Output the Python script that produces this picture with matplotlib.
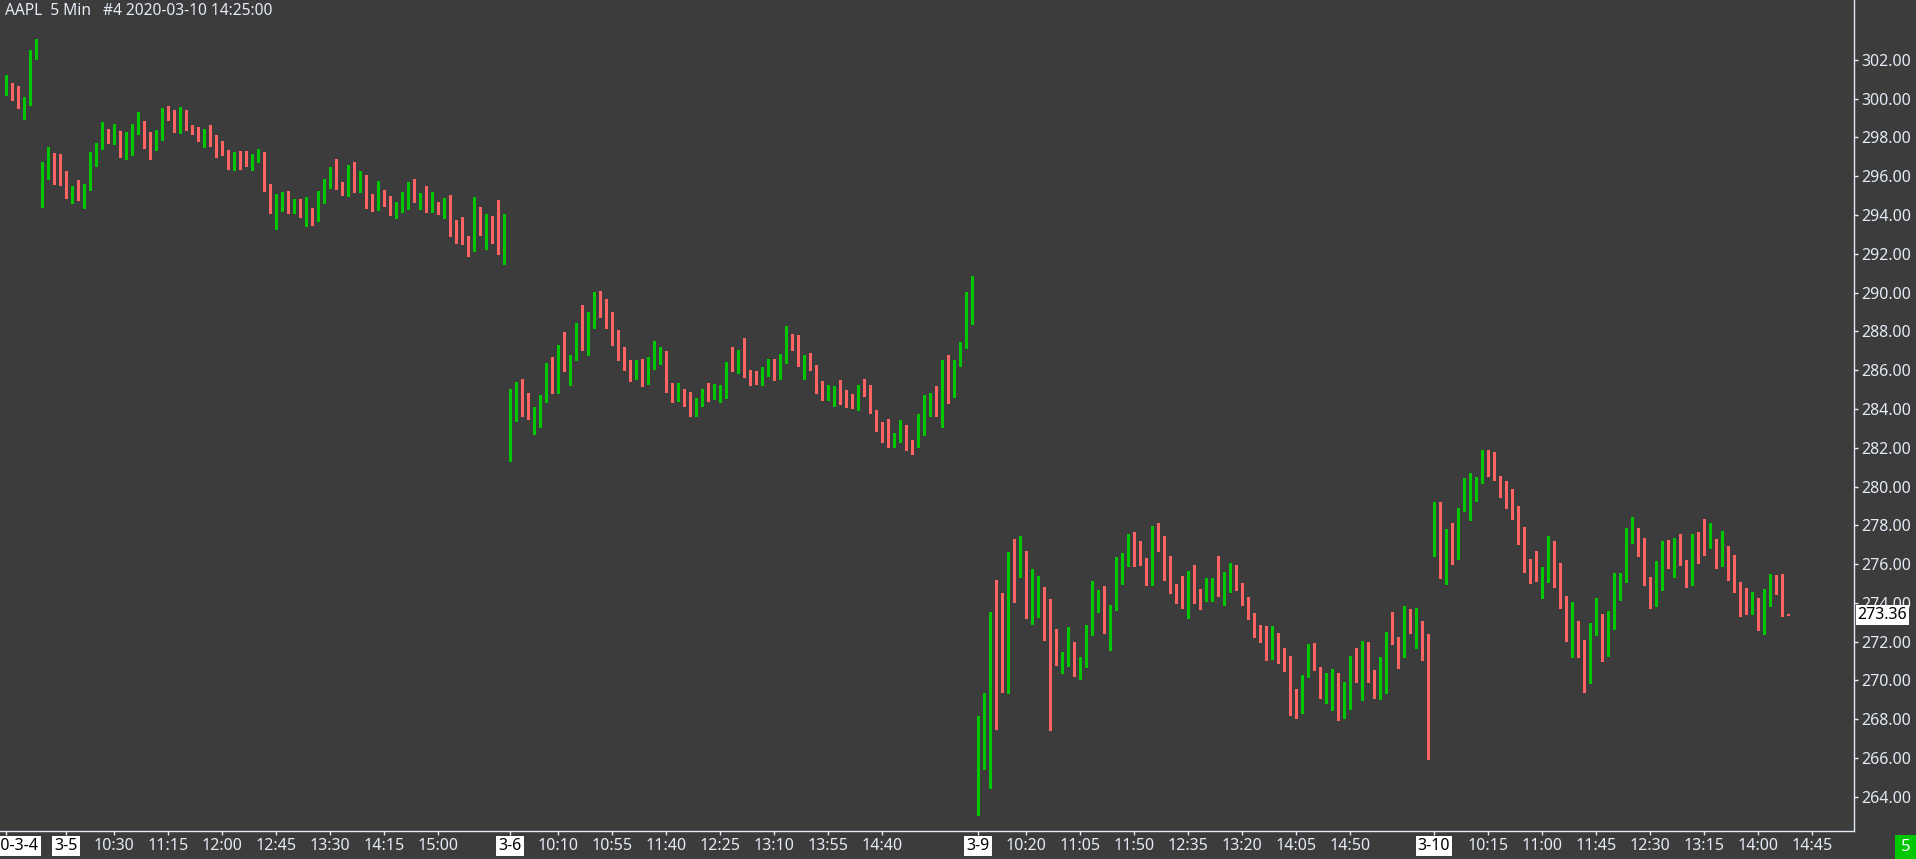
import matplotlib
matplotlib.use("Agg")
import matplotlib.pyplot as plt
from matplotlib.patches import Rectangle
from matplotlib.transforms import blended_transform_factory
import numpy as np

plt.rcParams["font.family"] = ["Noto Sans", "DejaVu Sans"]

# 5-minute bars, (open, high, low, close)
mar04 = [
    (300.45, 301.22, 300.19, 300.65), (300.65, 300.82, 299.93, 300.57), (300.60, 300.65, 299.53, 299.74),
    (299.69, 300.07, 298.93, 299.78), (299.69, 302.49, 299.69, 302.49), (302.47, 303.06, 302.03, 302.90),
]
mar05 = [
    (295.56, 296.75, 294.43, 296.72), (296.78, 297.52, 295.86, 296.99), (296.99, 297.20, 295.60, 296.49),
    (296.53, 297.15, 295.56, 295.70), (295.75, 296.27, 294.89, 295.00), (295.10, 295.51, 294.64, 295.48),
    (295.49, 295.80, 294.77, 294.82), (294.84, 295.60, 294.38, 295.44), (295.43, 297.25, 295.31, 297.04),
    (297.01, 297.70, 296.54, 297.66), (297.63, 298.79, 297.42, 298.28), (298.33, 298.45, 297.70, 297.73),
    (297.71, 298.69, 297.66, 298.33), (298.28, 298.33, 296.97, 297.04), (297.01, 298.28, 296.90, 297.42),
    (297.42, 298.71, 297.11, 298.43), (298.35, 299.33, 298.19, 298.85), (298.85, 298.85, 297.47, 297.61),
    (297.71, 298.28, 296.90, 297.42), (297.47, 298.38, 297.37, 298.18), (298.14, 299.52, 297.88, 299.26),
    (299.26, 299.62, 298.92, 299.17), (299.26, 299.41, 298.30, 298.40), (298.35, 299.57, 298.25, 299.05),
    (298.95, 299.41, 298.40, 298.40), (298.38, 298.64, 298.19, 298.25), (298.28, 298.54, 297.83, 297.99),
    (297.94, 298.43, 297.52, 298.23), (298.23, 298.64, 297.57, 298.09), (298.12, 298.12, 297.01, 297.42),
    (297.47, 297.82, 297.11, 297.21), (297.25, 297.35, 296.39, 296.49), (296.44, 297.27, 296.34, 296.89),
    (296.89, 297.30, 296.39, 296.70), (296.73, 297.30, 296.54, 296.54), (296.54, 297.15, 296.34, 296.84),
    (296.74, 297.41, 296.74, 296.95), (296.99, 297.26, 295.24, 295.30), (295.35, 295.60, 294.13, 294.13),
    (294.13, 295.09, 293.28, 295.04), (295.04, 295.19, 294.23, 295.16), (295.14, 295.24, 294.13, 294.18),
    (294.23, 294.83, 294.08, 294.26), (294.26, 294.83, 293.92, 294.07), (294.07, 294.93, 293.46, 294.21),
    (294.23, 294.37, 293.51, 294.13), (294.07, 295.24, 293.71, 294.68), (294.68, 295.86, 294.63, 295.76),
    (295.73, 296.48, 295.42, 296.22), (296.17, 296.89, 295.35, 295.40), (295.40, 295.71, 295.04, 295.09),
    (295.14, 296.58, 294.99, 296.33), (296.38, 296.74, 295.19, 295.19), (295.19, 296.28, 295.19, 296.12),
    (296.07, 296.07, 294.38, 294.47), (294.52, 295.09, 294.23, 294.44), (294.47, 295.76, 294.28, 295.24),
    (295.24, 295.30, 294.47, 294.73), (294.68, 294.99, 294.02, 294.02), (294.07, 294.68, 293.87, 294.21),
    (294.18, 295.19, 294.18, 294.73), (294.69, 295.71, 294.33, 295.40), (295.35, 295.86, 294.69, 294.85),
    (294.85, 295.14, 294.33, 294.90), (294.93, 295.50, 294.18, 294.18), (294.23, 295.19, 294.18, 294.47),
    (294.52, 294.68, 294.07, 294.28), (294.28, 294.88, 293.87, 294.73), (294.63, 295.04, 292.94, 293.30),
    (293.40, 293.77, 292.58, 293.15), (293.25, 293.89, 292.53, 292.53), (292.58, 292.92, 291.91, 292.48),
    (292.42, 294.93, 292.12, 294.23), (294.23, 294.44, 292.99, 292.99), (293.04, 294.07, 292.27, 293.66),
    (293.71, 293.97, 292.58, 292.89), (292.99, 294.78, 292.01, 292.17), (292.22, 294.07, 291.50, 293.04),
]
mar06 = [
    (281.90, 285.03, 281.30, 283.53), (283.48, 285.39, 283.38, 285.03), (284.98, 285.54, 283.64, 284.77),
    (284.82, 284.82, 283.48, 283.58), (283.58, 284.10, 282.71, 283.74), (283.64, 284.72, 283.07, 284.51),
    (284.41, 286.37, 284.36, 286.01), (286.06, 286.68, 284.82, 285.34), (285.34, 287.30, 284.82, 286.99),
    (286.94, 287.97, 285.96, 285.97), (285.91, 286.78, 285.23, 286.73), (286.68, 288.43, 286.52, 288.23),
    (288.23, 289.36, 287.04, 287.04), (287.04, 289.00, 286.78, 288.74), (288.69, 290.03, 288.17, 289.52),
    (289.57, 290.08, 288.74, 289.26), (289.31, 289.67, 288.17, 288.69), (288.79, 289.00, 287.30, 287.81),
    (287.87, 288.07, 286.52, 286.88), (286.88, 287.19, 286.01, 286.27), (286.21, 286.52, 285.44, 285.65),
    (285.70, 286.52, 285.54, 286.11), (285.96, 286.58, 285.18, 285.49), (285.39, 286.68, 285.29, 286.16),
    (286.06, 287.50, 286.06, 286.78), (286.73, 287.19, 286.32, 286.99), (286.99, 286.99, 284.87, 285.18),
    (285.24, 285.34, 284.36, 284.41), (284.46, 285.34, 284.41, 284.98), (284.98, 285.03, 284.15, 284.51),
    (284.62, 284.87, 283.64, 283.74), (283.74, 284.56, 283.64, 284.20), (284.15, 285.03, 284.15, 284.72),
    (284.72, 285.34, 284.41, 284.51), (284.51, 285.29, 284.51, 284.82), (284.77, 285.23, 284.36, 284.82),
    (284.77, 286.42, 284.56, 286.21), (286.32, 287.19, 285.96, 286.01), (286.06, 287.04, 285.85, 287.04),
    (287.09, 287.66, 285.65, 285.75), (285.75, 286.01, 285.23, 285.49), (285.60, 285.96, 285.29, 285.29),
    (285.23, 286.16, 285.23, 285.70), (285.70, 286.57, 285.70, 286.16), (286.16, 286.57, 285.49, 285.54),
    (285.54, 286.83, 285.54, 286.42), (286.37, 288.28, 286.37, 287.76), (287.76, 287.86, 287.04, 287.30),
    (287.24, 287.81, 286.21, 286.37), (286.32, 286.78, 285.54, 286.57), (286.57, 286.88, 286.01, 286.06),
    (286.11, 286.27, 284.82, 285.08), (285.13, 285.44, 284.46, 284.46), (284.56, 285.23, 284.46, 284.87),
    (284.87, 285.18, 284.15, 284.98), (285.03, 285.49, 284.25, 284.41), (284.46, 284.98, 284.10, 284.41),
    (284.46, 284.77, 284.05, 284.36), (284.36, 285.23, 283.94, 284.92), (284.98, 285.54, 284.67, 284.82),
    (284.92, 285.23, 283.79, 283.79), (283.84, 283.94, 282.86, 282.96), (283.07, 283.33, 282.29, 282.65),
    (282.71, 283.48, 282.04, 282.14), (282.14, 282.76, 282.04, 282.40), (282.29, 283.43, 282.29, 282.55),
    (282.55, 283.17, 281.88, 282.19), (282.29, 282.40, 281.67, 282.04), (282.04, 283.74, 282.04, 282.65),
    (282.65, 284.72, 282.65, 284.61), (284.56, 284.82, 283.63, 284.67), (284.61, 285.18, 283.63, 283.63),
    (283.63, 286.52, 283.07, 286.01), (285.96, 286.78, 284.30, 284.67), (284.72, 286.52, 284.61, 286.32),
    (286.27, 287.45, 286.21, 287.14), (287.14, 290.03, 287.14, 289.15), (289.05, 290.85, 288.38, 289.15),
]
mar09 = [
    (263.80, 268.16, 263.06, 267.54), (267.46, 269.35, 265.45, 269.24), (269.16, 273.52, 264.47, 272.85),
    (272.85, 275.18, 267.51, 272.72), (272.70, 274.50, 269.40, 269.47), (269.40, 276.62, 269.35, 276.00),
    (275.95, 277.29, 274.06, 275.35), (275.35, 277.44, 275.35, 276.21), (276.31, 276.67, 273.23, 273.49),
    (273.49, 275.74, 272.92, 274.35), (274.32, 275.38, 273.28, 274.76), (274.76, 274.81, 272.10, 273.54),
    (273.58, 274.20, 267.46, 272.36), (272.29, 272.65, 270.81, 270.81), (270.76, 271.46, 270.40, 271.15),
    (271.07, 272.75, 270.76, 271.62), (271.62, 271.98, 270.24, 270.55), (270.65, 271.20, 270.09, 270.84),
    (270.81, 272.85, 270.71, 272.49), (272.39, 275.12, 272.34, 274.14), (274.11, 274.66, 273.54, 274.56),
    (274.51, 274.87, 272.46, 272.98), (273.03, 273.89, 271.58, 273.68), (273.65, 276.36, 273.65, 275.74),
    (275.76, 276.57, 274.99, 276.52), (276.48, 277.55, 275.91, 277.29), (277.29, 277.65, 275.91, 276.43),
    (276.47, 277.19, 275.97, 276.12), (276.16, 276.31, 274.93, 275.04), (275.04, 277.96, 274.93, 277.44),
    (277.44, 278.12, 276.69, 276.84), (276.93, 277.44, 275.19, 275.61), (275.59, 276.41, 274.52, 274.73),
    (274.81, 274.97, 274.01, 274.32), (274.35, 275.38, 273.73, 273.96), (274.01, 275.64, 273.23, 275.38),
    (275.43, 275.95, 274.01, 274.26), (274.40, 274.71, 273.70, 274.11), (274.14, 275.28, 274.11, 274.66),
    (274.57, 275.28, 274.11, 274.92), (274.87, 276.41, 274.37, 274.63), (274.52, 275.59, 273.90, 274.68),
    (274.63, 276.05, 274.57, 275.90), (275.95, 275.95, 274.68, 274.94), (274.87, 275.02, 273.90, 274.06),
    (274.14, 274.30, 273.18, 273.39), (273.47, 273.47, 272.25, 272.25), (272.29, 272.85, 272.00, 272.05),
    (272.08, 272.80, 271.07, 271.27), (271.27, 272.80, 271.12, 272.39), (272.39, 272.44, 270.91, 271.12),
    (271.10, 271.67, 270.50, 270.81), (270.84, 271.26, 268.23, 268.54), (268.54, 269.55, 268.08, 268.49),
    (268.49, 270.28, 268.33, 270.12), (270.19, 271.87, 270.19, 271.15), (271.20, 271.93, 270.55, 270.60),
    (270.69, 270.69, 269.11, 269.21), (269.11, 270.38, 268.85, 269.86), (269.73, 270.59, 268.49, 270.17),
    (270.12, 270.38, 267.97, 268.44), (268.44, 269.92, 268.08, 268.57), (268.54, 271.27, 268.54, 270.84),
    (270.90, 271.67, 269.93, 270.14), (270.19, 272.03, 269.00, 271.41), (271.41, 271.98, 269.93, 270.40),
    (270.48, 270.53, 269.11, 269.11), (269.11, 271.20, 269.06, 270.07), (270.04, 272.49, 269.37, 272.18),
    (272.18, 273.52, 271.89, 272.15), (272.18, 272.24, 270.65, 271.12), (271.22, 273.83, 271.22, 273.32),
    (273.37, 273.68, 272.46, 272.87), (272.82, 273.73, 271.69, 273.06), (272.96, 273.06, 271.07, 272.41),
    (272.39, 272.39, 265.96, 266.27),
]
mar10 = [
    (277.15, 279.20, 276.43, 278.99), (278.99, 279.20, 275.29, 275.81), (275.81, 277.80, 274.98, 277.34),
    (277.34, 278.11, 276.02, 276.79), (276.74, 278.89, 276.27, 278.78), (278.80, 280.43, 278.75, 279.25),
    (279.21, 280.69, 278.29, 279.97), (279.94, 280.49, 279.27, 280.28), (280.30, 281.88, 280.19, 281.62),
    (281.57, 281.88, 280.56, 280.81), (280.90, 281.78, 280.35, 280.35), (280.43, 280.54, 279.47, 279.63),
    (279.66, 280.28, 278.90, 279.52), (279.56, 279.87, 278.34, 278.70), (278.73, 278.99, 277.05, 277.46),
    (277.44, 277.91, 275.60, 275.76), (275.79, 276.26, 275.04, 275.35), (275.40, 276.67, 275.14, 275.14),
    (275.19, 275.86, 274.26, 275.29), (275.24, 277.44, 275.09, 277.13), (277.13, 277.19, 274.83, 274.98),
    (275.09, 276.05, 273.75, 273.85), (273.90, 274.37, 272.05, 272.10), (272.15, 274.04, 271.22, 272.30),
    (272.29, 273.06, 271.22, 271.58), (271.63, 272.10, 269.42, 270.96), (271.01, 272.97, 269.88, 272.85),
    (272.77, 274.26, 272.35, 272.92), (272.90, 273.44, 271.01, 271.63), (271.68, 273.58, 271.27, 272.75),
    (272.66, 275.53, 272.66, 274.50), (274.53, 275.54, 274.15, 275.18), (275.08, 277.86, 275.08, 277.61),
    (277.47, 278.43, 277.09, 277.76), (277.76, 277.86, 276.42, 277.09), (277.19, 277.35, 274.92, 274.92),
    (274.92, 275.34, 273.75, 274.37), (274.37, 276.16, 273.86, 275.80), (275.77, 277.19, 274.68, 277.14),
    (277.09, 277.24, 275.82, 275.85), (275.87, 277.35, 275.35, 277.19), (277.19, 277.55, 275.97, 276.08),
    (276.11, 276.21, 274.84, 275.61), (275.71, 277.55, 274.94, 277.40), (277.30, 277.66, 276.08, 277.26),
    (277.40, 278.33, 276.49, 277.26), (277.31, 278.12, 276.85, 277.35), (277.24, 277.30, 275.82, 276.38),
    (276.33, 277.71, 275.92, 276.88), (276.93, 276.93, 275.20, 275.71), (275.80, 276.47, 274.58, 275.10),
    (275.08, 275.08, 273.34, 273.81), (273.84, 274.77, 273.44, 273.50), (273.50, 274.56, 273.44, 274.15),
    (274.15, 274.25, 272.62, 272.83), (272.93, 274.72, 272.41, 274.56), (274.58, 275.49, 273.86, 275.34),
    (275.23, 275.44, 274.48, 274.84), (274.97, 275.49, 273.34, 273.44), (273.40, 273.40, 273.36, 273.36),
]


def session(start, end):
    h0, m0 = map(int, start.split(":"))
    h1, m1 = map(int, end.split(":"))
    return ["%02d:%02d" % divmod(t, 60) for t in range(h0 * 60 + m0, h1 * 60 + m1 + 1, 5)]


# bar slots on the time axis (3-9 lost two bars to the trading halt)
days = ["03-04", "03-05", "03-06", "03-09", "03-10"]
day_slots = [
    session("15:30", "15:55"),
    session("09:30", "15:55"),
    session("09:30", "15:55"),
    ["09:30", "09:35"] + session("09:50", "15:55"),
    session("09:30", "15:55"),
]

# x-axis labels: (day, time, label, is_date)
x_labels = [("03-04", "15:30", "2020-3-4", True), ("03-05", "09:50", "3-5", True)]
x_labels += [("03-05", t, t, False) for t in ["10:30", "11:15", "12:00", "12:45", "13:30", "14:15", "15:00"]]
x_labels += [("03-06", "09:30", "3-6", True)]
x_labels += [("03-06", t, t, False) for t in ["10:10", "10:55", "11:40", "12:25", "13:10", "13:55", "14:40"]]
x_labels += [("03-09", "09:30", "3-9", True)]
x_labels += [("03-09", t, t, False) for t in ["10:20", "11:05", "11:50", "12:35", "13:20", "14:05", "14:50"]]
x_labels += [("03-10", "09:30", "3-10", True)]
x_labels += [("03-10", t, t, False) for t in ["10:15", "11:00", "11:45", "12:30", "13:15", "14:00", "14:45"]]

price_ticks = np.arange(264, 303, 2)

BG = "#3c3c3c"
FG = "#e4ebf5"
UP = "#00c800"
DOWN = "#ff6464"

slots = [(d, t) for d, ts in zip(days, day_slots) for t in ts]
slot_index = {s: i for i, s in enumerate(slots)}

bars = np.array(mar04 + mar05 + mar06 + mar09 + mar10)
o, h, l, c = bars.T
x = np.arange(len(bars))
up = c >= o
colors = np.where(up, UP, DOWN)

fig = plt.figure(figsize=(19.16, 8.59), dpi=100, facecolor=BG)
ax = fig.add_axes([0, 28.3 / 859, 1854 / 1916, 1 - 28.3 / 859])
ax.set_facecolor(BG)

ax.vlines(x, l, h, colors=colors, linewidth=0.75, antialiased=False)
ax.bar(x, np.maximum(np.abs(c - o), 0.055), bottom=np.minimum(o, c), width=0.5,
       color=colors, linewidth=0, antialiased=False)

ax.set_xlim(-1, 308)
ax.set_ylim(262.25, 305.09)

for side in ["left", "top"]:
    ax.spines[side].set_visible(False)
for side in ["right", "bottom"]:
    ax.spines[side].set_color(FG)
    ax.spines[side].set_linewidth(1)

ax.yaxis.tick_right()
ax.set_yticks(price_ticks)
ax.set_yticklabels(["%.2f" % p for p in price_ticks])
ax.set_xticks([slot_index[(d, t)] for d, t, _, _ in x_labels])
ax.set_xticklabels([lab for _, _, lab, _ in x_labels])
ax.tick_params(colors=FG, labelcolor=FG, labelsize=11.5, length=3, width=1, pad=2)

for tl, (_, _, _, is_date) in zip(ax.get_xticklabels(), x_labels):
    if is_date:
        tl.set_color("black")
        tl.set_bbox(dict(facecolor="white", edgecolor="none", pad=1.5))

# last price tag
last = c[-1]
trans = blended_transform_factory(ax.transAxes, ax.transData)
ax.text(1.002, last, "%.2f" % last, transform=trans, ha="left", va="center",
        fontsize=11.5, color="black", clip_on=False, zorder=10,
        bbox=dict(facecolor="white", edgecolor="none", pad=1.5))

fig.text(5 / 1916, 1 - 11 / 859, "AAPL  5 Min   #4 2020-03-10 14:25:00",
         ha="left", va="center", fontsize=11.2, color=FG)

fig.patches.append(Rectangle((1895 / 1916, 0), 21 / 1916, 24 / 859, transform=fig.transFigure,
                             facecolor=UP, edgecolor="none"))
fig.text(1905.5 / 1916, 12 / 859, "5", ha="center", va="center", fontsize=12, color="white")

fig.savefig("out.png", dpi=100, facecolor=BG)
